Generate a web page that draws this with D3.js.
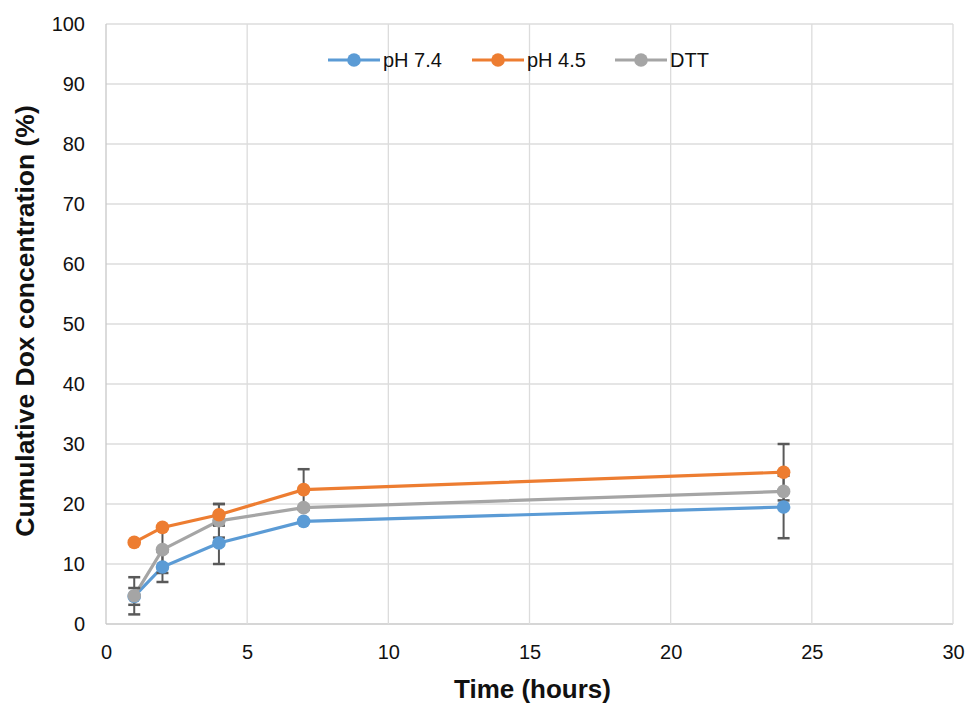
<!DOCTYPE html>
<html><head><meta charset="utf-8">
<script src="https://cdn.jsdelivr.net/npm/d3@7"></script>
<style>body{margin:0;background:#fff}svg{display:block}text{font-family:"Liberation Sans",Arial,sans-serif}</style>
</head><body><svg id="c" width="968" height="706"></svg>
<script>
const times = [1, 2, 4, 7, 24];
const seriesNames = ["pH 7.4", "pH 4.5", "DTT"];
const seriesColors = ["#5b9bd5", "#ed7d31", "#a5a5a5"];
const ph74 = [4.6, 9.5, 13.5, 17.1, 19.5];
const ph45 = [13.6, 16.1, 18.2, 22.4, 25.3];
const dtt = [4.7, 12.4, 17.2, 19.4, 22.1];
const ph74Err = [1.4, 2.5, 3.5, 0, 5.2];
const ph45Err = [0, 0, 1.8, 3.4, 4.7];
const dttErr = [3.1, 3.9, 2.8, 0, 0];
const xTicks = [0, 5, 10, 15, 20, 25, 30];
const yTicks = [0, 10, 20, 30, 40, 50, 60, 70, 80, 90, 100];

const svg = d3.select("#c");
const x = d3.scaleLinear().domain([0, 30]).range([106, 953]);
const y = d3.scaleLinear().domain([0, 100]).range([624, 24]);

svg.append("g").selectAll("line").data(yTicks).join("line")
  .attr("x1", x(0)).attr("x2", x(30)).attr("y1", d => y(d)).attr("y2", d => y(d))
  .attr("stroke", d => d === 0 ? "#c8c8c8" : "#dcdcdc").attr("stroke-width", 1.3);
svg.append("g").selectAll("line").data(xTicks).join("line")
  .attr("y1", y(0)).attr("y2", y(100)).attr("x1", d => x(d)).attr("x2", d => x(d))
  .attr("stroke", d => d === 0 ? "#c8c8c8" : "#dcdcdc").attr("stroke-width", 1.3);

const xAxis = svg.append("g").attr("transform", `translate(0,${y(0)})`)
  .call(d3.axisBottom(x).tickValues(xTicks).tickSize(0).tickPadding(21));
const yAxis = svg.append("g").attr("transform", `translate(${x(0)},0)`)
  .call(d3.axisLeft(y).tickValues(yTicks).tickSize(0).tickPadding(21));
[xAxis, yAxis].forEach(a => {
  a.select(".domain").remove();
  a.selectAll("text").attr("font-size", 20).attr("fill", "#111")
    .attr("font-family", '"Liberation Sans",Arial,sans-serif');
});

svg.append("text").attr("x", (x(0) + x(30)) / 2 + 3).attr("y", 698).attr("text-anchor", "middle")
  .attr("font-size", 26).attr("font-weight", "bold").attr("fill", "#111").text("Time (hours)");
svg.append("text").attr("transform", `translate(34,321) rotate(-90)`)
  .attr("text-anchor", "middle").attr("font-size", 26.5).attr("font-weight", "bold").attr("fill", "#111")
  .text("Cumulative Dox concentration (%)");

const allVals = [ph74, ph45, dtt];
const allErr = [ph74Err, ph45Err, dttErr];
const line = d3.line().x(d => x(d[0])).y(d => y(d[1]));

const order = [0, 2, 1];
order.forEach(i => {
  const pts = times.map((t, j) => [t, allVals[i][j]]);
  svg.append("path").datum(pts).attr("d", line).attr("fill", "none")
    .attr("stroke", seriesColors[i]).attr("stroke-width", 3.2);
});
order.forEach(i => {
  const g = svg.append("g").attr("stroke", "#595959").attr("stroke-width", 2);
  times.forEach((t, j) => {
    const e = allErr[i][j];
    if (!e) return;
    const v = allVals[i][j];
    g.append("line").attr("x1", x(t)).attr("x2", x(t)).attr("y1", y(v - e)).attr("y2", y(v + e));
    [v - e, v + e].forEach(c => g.append("line").attr("x1", x(t) - 6).attr("x2", x(t) + 6)
      .attr("y1", y(c)).attr("y2", y(c)).attr("stroke-width", 2.5));
  });
});
order.forEach(i => {
  svg.append("g").selectAll("circle").data(times.map((t, j) => [t, allVals[i][j]])).join("circle")
    .attr("cx", d => x(d[0])).attr("cy", d => y(d[1])).attr("r", 6.8).attr("fill", seriesColors[i]);
});

const legX = [328, 472, 615];
seriesNames.forEach((n, i) => {
  const g = svg.append("g").attr("transform", `translate(${legX[i]},60)`);
  g.append("line").attr("x1", 0).attr("x2", 52).attr("stroke", seriesColors[i]).attr("stroke-width", 3.2);
  g.append("circle").attr("cx", 26).attr("r", 6.8).attr("fill", seriesColors[i]);
  g.append("text").attr("x", 55).attr("y", 7).attr("font-size", 20).attr("fill", "#111").text(n);
});
</script></body></html>
